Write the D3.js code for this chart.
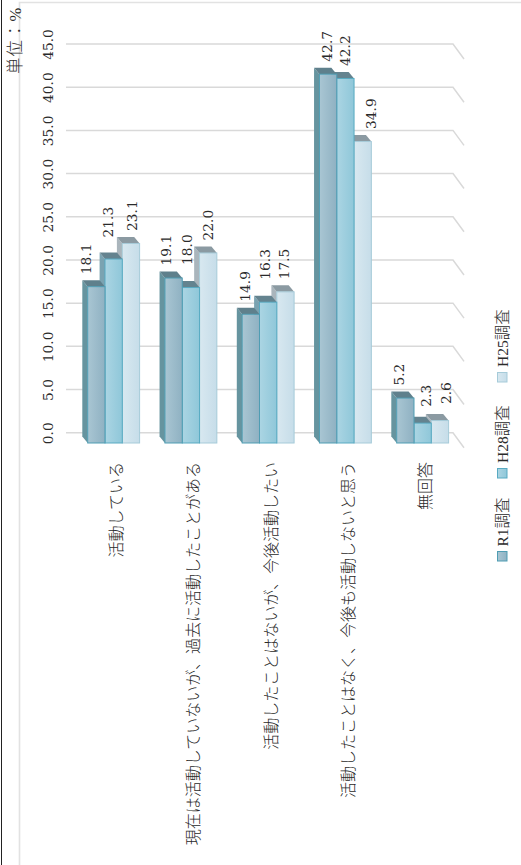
<!DOCTYPE html>
<html><head><meta charset="utf-8">
<script src="https://cdn.jsdelivr.net/npm/d3@7/dist/d3.min.js"></script>
<style>html,body{margin:0;padding:0;background:#fff}svg{display:block}
text{font-family:"DejaVu Serif","Noto Sans CJK JP",serif;fill:#2a2a2a}
.cjk{font-family:"Liberation Serif","Noto Sans CJK JP",serif;font-weight:300}</style>
</head><body><div id="c"></div>
<script>
const categories = ["活動している","現在は活動していないが、過去に活動したことがある","活動したことはないが、今後活動したい","活動したことはなく、今後も活動しないと思う","無回答"];
const seriesNames = ["R1調査","H28調査","H25調査"];
const r1Values = [18.1,19.1,14.9,42.7,5.2];
const h28Values = [21.3,18.0,16.3,42.2,2.3];
const h25Values = [23.1,22.0,17.5,34.9,2.6];
const tickValues = [0,5,10,15,20,25,30,35,40,45];
const unitLabel = "単位：%";

// hand placed data labels in the reference: [dx, dy] per category per series
const labelNudge = [
 [[-10.5,0],[-6,-9],[1.5,0]],
 [[-8,0],[-4,-10],[0,0]],
 [[-6,0],[-3,-10],[-1,0]],
 [[-1,0],[-0.5,0],[8,0]],
 [[-6,0],[3,-4],[6,-4]]
];
const seriesValues=[r1Values,h28Values,h25Values];
const W=521,H=865;
const styles=[
 {a:"#a9c6d3",b:"#8fb1c2",stroke:"#4f9db3",top:"#5f808c",side:"#66949f"},
 {a:"#abd5e3",b:"#8fc7d9",stroke:"#58aac2",top:"#64838f",side:"#7ba3b1"},
 {a:"#d8e8f0",b:"#c6dde9",stroke:"#a6cbd9",top:"#8b9aa2",side:"#aab5bc"}
];
const svg=d3.select("#c").append("svg").attr("width",W).attr("height",H);
const defs=svg.append("defs");
styles.forEach((s,i)=>{const g=defs.append("linearGradient").attr("id","g"+i);
 g.append("stop").attr("offset",0).attr("stop-color",s.a);
 g.append("stop").attr("offset",1).attr("stop-color",s.b);});

// frame
svg.append("line").attr("x1",1.5).attr("x2",1.5).attr("y1",0).attr("y2",H).attr("stroke","#222").attr("stroke-width",1);
svg.append("path").attr("d",`M19.5,${H}V2.5H${W}`).attr("fill","none").attr("stroke","#e2e2e2").attr("stroke-width",1.6);

const y=d3.scaleLinear().domain([0,45]).range([432.7,44]);
const baseShift=10.3, depthX=5.4, depthY=6.5;
const gridLeft=66, gridRight=453, wallX=11, wallY=15;
const x0=d3.scaleBand().domain(categories).range([87.7-(77.25-51.9)/2,87.7-(77.25-51.9)/2+77.25*5]).paddingInner(0).paddingOuter(0);
const barGroup=51.9, groupOffset=(x0.bandwidth()-barGroup)/2;
const x1=d3.scaleBand().domain(seriesNames).range([0,barGroup]);

// gridlines + wall corner
const grid=svg.append("g");
tickValues.forEach(t=>{
 grid.append("path").attr("d",`M${gridLeft},${y(t)}H${gridRight}L${gridRight+wallX},${y(t)+wallY}`)
  .attr("fill","none").attr("stroke","#d9d9d9").attr("stroke-width",1.5);
});

// value axis
const axis=svg.append("g").attr("transform","translate(54,0)").call(d3.axisLeft(y).tickValues(tickValues).tickFormat(d3.format(".1f")).tickSize(0).tickPadding(0));
axis.select(".domain").remove();
axis.selectAll("text").attr("x",0).attr("y",0).attr("dy",0)
 .attr("transform","translate(-1,0) rotate(-90)")
 .attr("text-anchor","middle").attr("font-size",13.8).attr("font-family","DejaVu Serif").attr("fill","#2a2a2a");

// bars, far side first so the nearer faces overlap
const bars=svg.append("g");
categories.forEach((c,ci)=>{
 for(let si=2;si>=0;si--){
  const v=seriesValues[si][ci], s=styles[si];
  const l=x0(c)+groupOffset+x1(seriesNames[si]), r=l+x1.bandwidth();
  const t=y(v)+baseShift, b=y(0)+baseShift;
  const g=bars.append("g");
  g.append("path").attr("d",`M${l},${t}L${l-depthX},${t-depthY}V${b-depthY}L${l},${b}Z`).attr("fill",s.side);
  g.append("path").attr("d",`M${l},${t}H${r}L${r-depthX},${t-depthY}H${l-depthX}Z`).attr("fill",s.top);
  g.append("rect").attr("x",l).attr("y",t).attr("width",r-l).attr("height",b-t)
   .attr("fill",`url(#g${si})`).attr("stroke",s.stroke).attr("stroke-width",1);
 }
});

// data labels
categories.forEach((c,ci)=>{
 seriesNames.forEach((n,si)=>{
  const v=seriesValues[si][ci], nd=labelNudge[ci][si];
  const cx=x0(c)+groupOffset+x1(n)+x1.bandwidth()/2+nd[0]+5;
  const yy=y(v)+baseShift-depthY-6+nd[1];
  svg.append("text").text(v.toFixed(1)).attr("transform",`translate(${cx},${yy}) rotate(-90)`)
   .attr("text-anchor","start").attr("font-size",13.8);
 });
});

// category labels
categories.forEach(c=>{
 const cx=x0(c)+x0.bandwidth()/2+3+5.5;
 svg.append("text").attr("class","cjk").text(c).attr("transform",`translate(${cx},462) rotate(-90)`)
  .attr("text-anchor","end").attr("font-size",16);
});

// legend
const legendY=[561,478,382], legendText=[546.5,463,367];
seriesNames.forEach((n,i)=>{
 svg.append("rect").attr("x",497.5).attr("y",legendY[i]-9.5).attr("width",9.5).attr("height",9.5)
  .attr("fill",`url(#g${i})`).attr("stroke",styles[i].stroke).attr("stroke-width",1);
 svg.append("text").attr("class","cjk").text(n).attr("transform",`translate(507.5,${legendText[i]}) rotate(-90)`).attr("font-size",15.5);
});

// unit
svg.append("text").attr("class","cjk").text(unitLabel).attr("transform","translate(20.5,74) rotate(-90)").attr("font-size",16.5).attr("letter-spacing",1).attr("fill","#444");
</script></body></html>
